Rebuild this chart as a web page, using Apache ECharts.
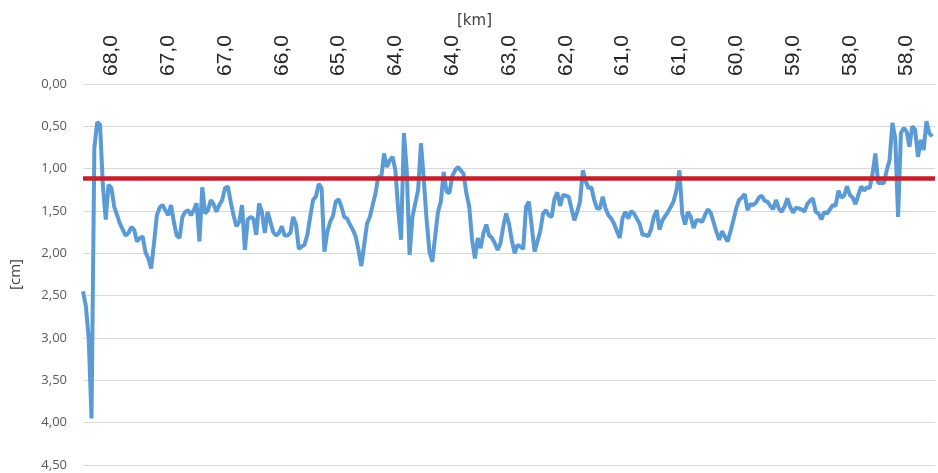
<!DOCTYPE html>
<html>
<head>
<meta charset="utf-8">
<script src="https://cdn.jsdelivr.net/npm/echarts@6/dist/echarts.min.js"></script>
<style>
html,body{margin:0;padding:0;background:#fff;}
#chart{width:938px;height:473px;}
</style>
</head>
<body>
<div id="chart"></div>
<script>
// Tick labels shown on the top (km) axis
const kmLabels = ['68,0','67,0','67,0','66,0','65,0','64,0','64,0','63,0','62,0','61,0','61,0','60,0','59,0','58,0','58,0'];
// Number of category slots along the axis and label placement
const slotCount = 301;
const labelStep = 20;
const labelOffset = 10;
// Reference level (red line), cm
const thresholdValue = 1.11;
// Measured depth values, cm (one per slot)
const depthValues = [
2.45,2.62,3.00,3.95,0.75,0.45,0.48,1.20,1.60,1.19,
1.23,1.45,1.55,1.65,1.72,1.79,1.76,1.69,1.72,1.86,
1.82,1.80,1.99,2.06,2.18,1.88,1.55,1.46,1.43,1.49,
1.55,1.43,1.63,1.79,1.82,1.57,1.51,1.49,1.55,1.49,
1.41,1.86,1.22,1.53,1.49,1.37,1.42,1.51,1.43,1.37,
1.23,1.21,1.39,1.55,1.68,1.63,1.43,1.96,1.60,1.57,
1.59,1.78,1.41,1.51,1.76,1.51,1.63,1.75,1.79,1.76,
1.68,1.79,1.79,1.76,1.57,1.66,1.95,1.92,1.90,1.78,
1.57,1.37,1.33,1.18,1.23,1.98,1.75,1.63,1.56,1.39,
1.36,1.45,1.57,1.59,1.66,1.72,1.80,1.96,2.15,1.90,
1.65,1.57,1.43,1.29,1.09,1.11,0.82,0.98,0.90,0.86,
1.02,1.49,1.84,0.58,1.02,2.02,1.57,1.41,1.25,0.70,
1.13,1.61,1.98,2.10,1.80,1.51,1.39,1.04,1.27,1.29,
1.09,1.02,0.98,1.02,1.06,1.29,1.45,1.84,2.06,1.82,
1.94,1.76,1.66,1.79,1.82,1.88,1.96,1.88,1.68,1.53,
1.65,1.85,2.00,1.90,1.92,1.95,1.45,1.39,1.68,1.98,
1.86,1.74,1.53,1.49,1.55,1.57,1.36,1.28,1.44,1.31,
1.32,1.33,1.47,1.61,1.51,1.39,1.02,1.15,1.23,1.22,
1.37,1.47,1.47,1.33,1.47,1.55,1.59,1.65,1.74,1.82,
1.58,1.51,1.59,1.50,1.53,1.59,1.65,1.78,1.78,1.80,
1.72,1.57,1.49,1.72,1.61,1.56,1.51,1.45,1.38,1.25,
1.02,1.53,1.66,1.51,1.57,1.70,1.61,1.61,1.63,1.55,
1.48,1.52,1.63,1.74,1.84,1.74,1.80,1.86,1.74,1.61,
1.47,1.37,1.34,1.30,1.49,1.42,1.43,1.40,1.34,1.32,
1.38,1.39,1.44,1.48,1.37,1.47,1.51,1.45,1.35,1.45,
1.52,1.46,1.47,1.48,1.51,1.42,1.38,1.35,1.51,1.53,
1.60,1.51,1.53,1.48,1.43,1.44,1.26,1.34,1.32,1.21,
1.31,1.34,1.42,1.31,1.21,1.26,1.22,1.23,1.06,0.82,
1.17,1.17,1.17,1.02,0.90,0.46,0.64,1.57,0.58,0.52,
0.56,0.74,0.50,0.54,0.86,0.66,0.78,0.44,0.58,0.62
];

const categories = [];
for (let i = 0; i < slotCount; i++) {
  const k = (i - labelOffset) / labelStep;
  categories.push(i >= labelOffset && Number.isInteger(k) && k < kmLabels.length ? kmLabels[k] : '');
}

const chart = echarts.init(document.getElementById('chart'), null, {renderer: 'canvas'});
chart.setOption({
  animation: false,
  backgroundColor: '#ffffff',
  title: {
    text: '[km]',
    left: 452,
    top: 9,
    textStyle: {fontSize: 15, fontWeight: 'normal', color: '#404040', fontFamily: 'DejaVu Sans'}
  },
  grid: {left: 82, right: 3, top: 84, bottom: 8, containLabel: false},
  xAxis: {
    type: 'category',
    position: 'top',
    data: categories,
    boundaryGap: false,
    axisLine: {show: false},
    axisTick: {show: false},
    splitLine: {show: false},
    axisLabel: {
      interval: (idx) => idx >= labelOffset && (idx - labelOffset) % labelStep === 0,
      rotate: 90,
      margin: 8,
      fontSize: 21,
      fontFamily: "'Liberation Sans', Arial, sans-serif",
      color: '#262626'
    }
  },
  yAxis: {
    type: 'value',
    inverse: true,
    min: 0,
    max: 4.5,
    interval: 0.5,
    name: '[cm]',
    nameLocation: 'middle',
    nameGap: 60,
    nameRotate: 90,
    nameTextStyle: {fontSize: 15, color: '#404040', fontFamily: 'Open Sans'},
    axisLine: {show: false},
    axisTick: {show: false},
    splitLine: {lineStyle: {color: '#d9d9d9', width: 1}},
    axisLabel: {
      margin: 16,
      fontSize: 13,
      color: '#595959',
      fontFamily: 'Open Sans',
      formatter: (v) => v.toFixed(2).replace('.', ',')
    }
  },
  series: [{
    type: 'line',
    data: depthValues,
    showSymbol: false,
    symbol: 'none',
    lineStyle: {color: '#5B9BD5', width: 4},
    markLine: {
      silent: true,
      symbol: 'none',
      label: {show: false},
      lineStyle: {color: '#C0222A', width: 4.5, type: 'solid'},
      data: [{yAxis: thresholdValue}]
    }
  }]
});
</script>
</body>
</html>
